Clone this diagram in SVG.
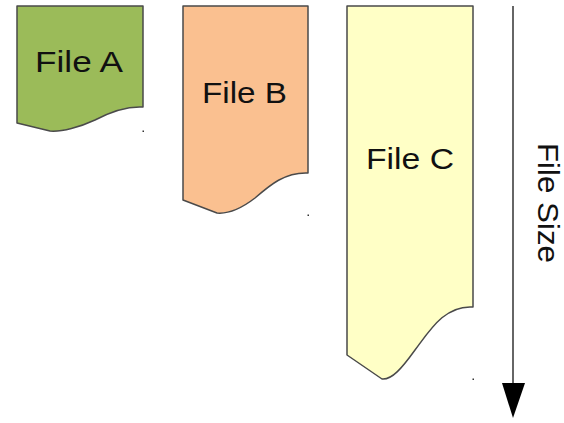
<svg xmlns="http://www.w3.org/2000/svg" width="564" height="423" viewBox="0 0 564 423">
<defs>
<style>
.doc{stroke:#4a4a4a;stroke-width:1.5;stroke-linejoin:round}
.lbl{font-family:"Liberation Sans",Arial,sans-serif;font-size:30px;fill:#111;text-anchor:middle}
.dot{fill:#333}
</style>
</defs>
<rect width="564" height="423" fill="#fff"/>
<g id="fileA">
<path class="doc" fill="#9bbb59" d="M17,6 H143 V107 C125,106 110,112 95,120 C80,127 62,132 50,131 L17,123 Z"/>
<text class="lbl" x="79" y="72" textLength="88" lengthAdjust="spacingAndGlyphs">File A</text>
</g>
<g id="fileB">
<path class="doc" fill="#fac090" d="M183,6 H308 V173 C285,172 270,185 255,198 C242,208 228,214 217,213 L183,200 Z"/>
<text class="lbl" x="244.5" y="103" textLength="85" lengthAdjust="spacingAndGlyphs">File B</text>
</g>
<g id="fileC">
<path class="doc" fill="#ffffc6" d="M347,6 H473 V307 C445,305 430,330 415,350 C402,368 392,380 382,379 L347,355 Z"/>
<text class="lbl" x="410" y="169" textLength="88" lengthAdjust="spacingAndGlyphs">File C</text>
</g>
<g id="connectors">
<line x1="513" y1="6" x2="513" y2="385" stroke="#333" stroke-width="1.5"/>
<polygon points="502,383 525,383 513,418" fill="#000"/>
</g>
<g id="axisLabel">
<text class="lbl" transform="translate(538,203) rotate(90)" x="0" y="0" textLength="120" lengthAdjust="spacingAndGlyphs">File Size</text>
</g>
<rect class="dot" x="142.5" y="130.5" width="1.5" height="1.5"/>
<rect class="dot" x="307.5" y="214.5" width="1.5" height="1.5"/>
<rect class="dot" x="472.5" y="378.5" width="1.5" height="1.5"/>
</svg>
